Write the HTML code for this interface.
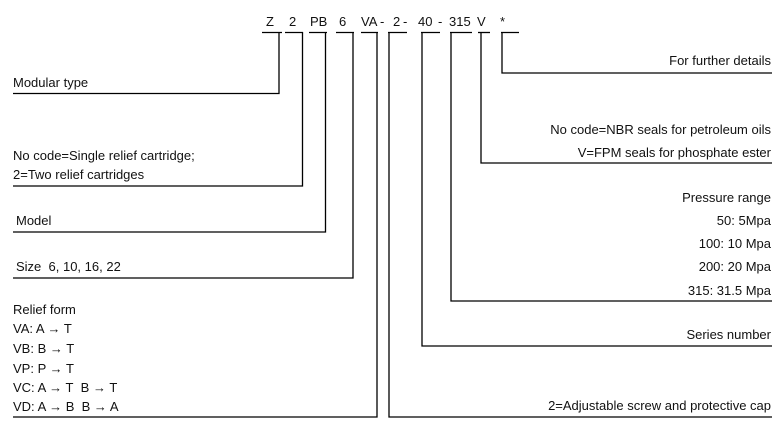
<!DOCTYPE html>
<html><head><meta charset="utf-8"><style>
html,body{margin:0;padding:0;background:#fff;}
svg{display:block;}
text{font-family:"Liberation Sans",Arial,sans-serif;font-size:13px;fill:#111;}
.r{text-anchor:end;}
</style></head><body>
<svg width="780" height="435" viewBox="0 0 780 435" xmlns="http://www.w3.org/2000/svg">
<g>
<text x="266" y="26">Z</text>
<text x="289" y="26">2</text>
<text x="310" y="26">PB</text>
<text x="339" y="26">6</text>
<text x="361" y="26">VA</text>
<text x="380" y="26">-</text>
<text x="393" y="26">2</text>
<text x="403" y="26">-</text>
<text x="418" y="26">40</text>
<text x="438" y="26">-</text>
<text x="449" y="26">315</text>
<text x="477" y="26">V</text>
<text x="500" y="26">*</text>
</g>
<g stroke="#000" stroke-width="1.3" fill="none">
<line x1="262" y1="32.5" x2="282" y2="32.5"/>
<line x1="285" y1="32.5" x2="303" y2="32.5"/>
<line x1="309" y1="32.5" x2="327" y2="32.5"/>
<line x1="336" y1="32.5" x2="354" y2="32.5"/>
<line x1="361" y1="32.5" x2="378" y2="32.5"/>
<line x1="388" y1="32.5" x2="407" y2="32.5"/>
<line x1="421" y1="32.5" x2="440" y2="32.5"/>
<line x1="450" y1="32.5" x2="472" y2="32.5"/>
<line x1="478" y1="32.5" x2="490" y2="32.5"/>
<line x1="501" y1="32.5" x2="519" y2="32.5"/>
<polyline points="279,32 279,93.5 13,93.5"/>
<polyline points="302.5,32 302.5,186 13,186"/>
<polyline points="325.5,32 325.5,232 13,232"/>
<polyline points="353,32 353,278 13,278"/>
<polyline points="377,32 377,417 13,417"/>
<polyline points="389,32 389,417 772,417"/>
<polyline points="422,32 422,346 772,346"/>
<polyline points="451,32 451,301 772,301"/>
<polyline points="481,32 481,163 772,163"/>
<polyline points="502,32 502,73 772,73"/>
</g>
<text x="13" y="87">Modular type</text>
<text x="13" y="160">No code=Single relief cartridge;</text>
<text x="13" y="179">2=Two relief cartridges</text>
<text x="16" y="225">Model</text>
<text x="16" y="271">Size&#160; 6, 10, 16, 22</text>
<text x="13" y="314">Relief form</text>
<text x="13" y="333">VA: A → T</text>
<text x="13" y="353">VB: B → T</text>
<text x="13" y="373">VP: P → T</text>
<text x="13" y="392">VC: A → T&#160; B → T</text>
<text x="13" y="411">VD: A → B&#160; B → A</text>

<text class="r" x="771" y="65">For further details</text>
<text class="r" x="771" y="134">No code=NBR seals for petroleum oils</text>
<text class="r" x="771" y="157">V=FPM seals for phosphate ester</text>
<text class="r" x="771" y="202">Pressure range</text>
<text class="r" x="771" y="225">50: 5Mpa</text>
<text class="r" x="771" y="248">100: 10 Mpa</text>
<text class="r" x="771" y="271">200: 20 Mpa</text>
<text class="r" x="771" y="295">315: 31.5 Mpa</text>
<text class="r" x="771" y="339">Series number</text>
<text class="r" x="771" y="410">2=Adjustable screw and protective cap</text>
</svg>
</body></html>
